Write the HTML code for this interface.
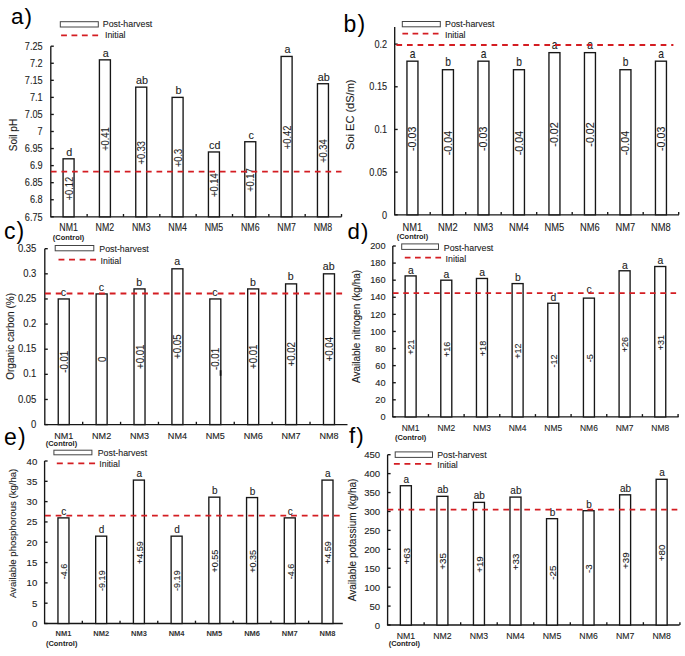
<!DOCTYPE html>
<html><head><meta charset="utf-8"><title>Soil properties</title>
<style>
html,body{margin:0;padding:0;background:#fff;width:685px;height:656px;overflow:hidden}
svg{display:block}
text{font-family:"Liberation Sans", sans-serif;fill:#1c1c1c;stroke:#1c1c1c;stroke-width:0.2px;stroke-opacity:0.5}
.pl,.ctl,.xle{stroke:none}
line{stroke:#161616;stroke-width:1.35}
.bar{fill:#fff;stroke:#161616;stroke-width:1.35}
.lgb{fill:#fff;stroke:#444;stroke-width:1}
.red{stroke:#d41d22;stroke-width:1.8;stroke-dasharray:5.9 4.6}
.xl,.xle,.lg,.ctl{fill:#222}
.xle{font-weight:bold;fill:#333}
.ctl{font-weight:bold}
.pl{fill:#000;letter-spacing:1.1px}
</style></head>
<body>
<svg width="685" height="656" viewBox="0 0 685 656">
<rect width="685" height="656" fill="#fff"/>
<line x1="50.8" y1="46.2" x2="50.8" y2="216.8" />
<line x1="50.15" y1="216.8" x2="341.5" y2="216.8" />
<line x1="50.8" y1="216.80" x2="53.8" y2="216.80" />
<text class="tk" transform="translate(42.60,220.50) scale(0.88,1)" style="font-size:10.4px" text-anchor="end">6.75</text>
<line x1="50.8" y1="199.74" x2="53.8" y2="199.74" />
<text class="tk" transform="translate(42.60,203.44) scale(0.88,1)" style="font-size:10.4px" text-anchor="end">6.8</text>
<line x1="50.8" y1="182.68" x2="53.8" y2="182.68" />
<text class="tk" transform="translate(42.60,186.38) scale(0.88,1)" style="font-size:10.4px" text-anchor="end">6.85</text>
<line x1="50.8" y1="165.62" x2="53.8" y2="165.62" />
<text class="tk" transform="translate(42.60,169.32) scale(0.88,1)" style="font-size:10.4px" text-anchor="end">6.9</text>
<line x1="50.8" y1="148.56" x2="53.8" y2="148.56" />
<text class="tk" transform="translate(42.60,152.26) scale(0.88,1)" style="font-size:10.4px" text-anchor="end">6.95</text>
<line x1="50.8" y1="131.50" x2="53.8" y2="131.50" />
<text class="tk" transform="translate(42.60,135.20) scale(0.88,1)" style="font-size:10.4px" text-anchor="end">7</text>
<line x1="50.8" y1="114.44" x2="53.8" y2="114.44" />
<text class="tk" transform="translate(42.60,118.14) scale(0.88,1)" style="font-size:10.4px" text-anchor="end">7.05</text>
<line x1="50.8" y1="97.38" x2="53.8" y2="97.38" />
<text class="tk" transform="translate(42.60,101.08) scale(0.88,1)" style="font-size:10.4px" text-anchor="end">7.1</text>
<line x1="50.8" y1="80.32" x2="53.8" y2="80.32" />
<text class="tk" transform="translate(42.60,84.02) scale(0.88,1)" style="font-size:10.4px" text-anchor="end">7.15</text>
<line x1="50.8" y1="63.26" x2="53.8" y2="63.26" />
<text class="tk" transform="translate(42.60,66.96) scale(0.88,1)" style="font-size:10.4px" text-anchor="end">7.2</text>
<line x1="50.8" y1="46.20" x2="53.8" y2="46.20" />
<text class="tk" transform="translate(42.60,49.90) scale(0.88,1)" style="font-size:10.4px" text-anchor="end">7.25</text>
<line x1="87.14" y1="216.8" x2="87.14" y2="214.0" />
<line x1="123.48" y1="216.8" x2="123.48" y2="214.0" />
<line x1="159.82" y1="216.8" x2="159.82" y2="214.0" />
<line x1="196.16" y1="216.8" x2="196.16" y2="214.0" />
<line x1="232.50" y1="216.8" x2="232.50" y2="214.0" />
<line x1="268.84" y1="216.8" x2="268.84" y2="214.0" />
<line x1="305.18" y1="216.8" x2="305.18" y2="214.0" />
<line x1="341.52" y1="216.8" x2="341.52" y2="214.0" />
<rect class="bar" x="63.07" y="158.80" width="11.0" height="58.00" />
<text class="lt" transform="translate(69.37,155.80) scale(1.08,1)" style="font-size:10.0px" text-anchor="middle">d</text>
<text class="vt" transform="translate(72.52,188.60) rotate(-90) scale(0.91,1)" style="font-size:10.2px" text-anchor="middle">+0.12</text>
<text class="xl" transform="translate(68.57,231.20) scale(0.865,1)" style="font-size:10.2px" text-anchor="middle">NM1</text>
<rect class="bar" x="99.41" y="59.85" width="11.0" height="156.95" />
<text class="lt" transform="translate(105.71,56.85) scale(1.08,1)" style="font-size:10.0px" text-anchor="middle">a</text>
<text class="vt" transform="translate(108.86,139.12) rotate(-90) scale(0.91,1)" style="font-size:10.2px" text-anchor="middle">+0.41</text>
<text class="xl" transform="translate(104.91,231.20) scale(0.865,1)" style="font-size:10.2px" text-anchor="middle">NM2</text>
<rect class="bar" x="135.75" y="87.14" width="11.0" height="129.66" />
<text class="lt" transform="translate(142.05,84.14) scale(1.08,1)" style="font-size:10.0px" text-anchor="middle">ab</text>
<text class="vt" transform="translate(145.20,152.77) rotate(-90) scale(0.91,1)" style="font-size:10.2px" text-anchor="middle">+0.33</text>
<text class="xl" transform="translate(141.25,231.20) scale(0.865,1)" style="font-size:10.2px" text-anchor="middle">NM3</text>
<rect class="bar" x="172.09" y="97.38" width="11.0" height="119.42" />
<text class="lt" transform="translate(178.39,94.38) scale(1.08,1)" style="font-size:10.0px" text-anchor="middle">b</text>
<text class="vt" transform="translate(181.54,157.89) rotate(-90) scale(0.91,1)" style="font-size:10.2px" text-anchor="middle">+0.3</text>
<text class="xl" transform="translate(177.59,231.20) scale(0.865,1)" style="font-size:10.2px" text-anchor="middle">NM4</text>
<rect class="bar" x="208.43" y="151.97" width="11.0" height="64.83" />
<text class="lt" transform="translate(214.73,148.97) scale(1.08,1)" style="font-size:10.0px" text-anchor="middle">cd</text>
<text class="vt" transform="translate(217.88,185.19) rotate(-90) scale(0.91,1)" style="font-size:10.2px" text-anchor="middle">+0.14</text>
<text class="xl" transform="translate(213.93,231.20) scale(0.865,1)" style="font-size:10.2px" text-anchor="middle">NM5</text>
<rect class="bar" x="244.77" y="141.74" width="11.0" height="75.06" />
<text class="lt" transform="translate(251.07,138.74) scale(1.08,1)" style="font-size:10.0px" text-anchor="middle">c</text>
<text class="vt" transform="translate(254.22,180.07) rotate(-90) scale(0.91,1)" style="font-size:10.2px" text-anchor="middle">+0.17</text>
<text class="xl" transform="translate(250.27,231.20) scale(0.865,1)" style="font-size:10.2px" text-anchor="middle">NM6</text>
<rect class="bar" x="281.11" y="56.44" width="11.0" height="160.36" />
<text class="lt" transform="translate(287.41,53.44) scale(1.08,1)" style="font-size:10.0px" text-anchor="middle">a</text>
<text class="vt" transform="translate(290.56,137.42) rotate(-90) scale(0.91,1)" style="font-size:10.2px" text-anchor="middle">+0.42</text>
<text class="xl" transform="translate(286.61,231.20) scale(0.865,1)" style="font-size:10.2px" text-anchor="middle">NM7</text>
<rect class="bar" x="317.45" y="83.73" width="11.0" height="133.07" />
<text class="lt" transform="translate(323.75,80.73) scale(1.08,1)" style="font-size:10.0px" text-anchor="middle">ab</text>
<text class="vt" transform="translate(326.90,151.07) rotate(-90) scale(0.91,1)" style="font-size:10.2px" text-anchor="middle">+0.34</text>
<text class="xl" transform="translate(322.95,231.20) scale(0.865,1)" style="font-size:10.2px" text-anchor="middle">NM8</text>
<text class="ctl" transform="translate(68.57,240.00) scale(0.98,1)" style="font-size:7.6px" text-anchor="middle">(Control)</text>
<line class="red" x1="50.9" y1="171.6" x2="341.5" y2="171.6" style="stroke-dasharray:5.70 4.86" />
<rect class="lgb" x="60.3" y="21.7" width="38" height="5.3" />
<text class="lg" transform="translate(102.80,27.20) scale(0.9,1)" style="font-size:9.8px">Post-harvest</text>
<line class="red" x1="61.1" y1="35.4" x2="98.8" y2="35.4" style="stroke-dasharray:5.82 4.58" />
<text class="lg" transform="translate(105.00,38.20) scale(0.9,1)" style="font-size:9.8px">Initial</text>
<text class="yl" transform="translate(16.80,135.00) rotate(-90)" style="font-size:10.0px" text-anchor="middle">Soil pH</text>
<text class="pl" transform="translate(11.00,23.60)" style="font-size:22.5px">a)</text>
<line x1="394.7" y1="27.0" x2="394.7" y2="214.8" />
<line x1="394.05" y1="214.8" x2="679.0" y2="214.8" />
<line x1="394.7" y1="214.80" x2="397.7" y2="214.80" />
<text class="tk" transform="translate(387.10,218.50) scale(0.88,1)" style="font-size:10.4px" text-anchor="end">0</text>
<line x1="394.7" y1="172.12" x2="397.7" y2="172.12" />
<text class="tk" transform="translate(387.10,175.82) scale(0.88,1)" style="font-size:10.4px" text-anchor="end">0.05</text>
<line x1="394.7" y1="129.45" x2="397.7" y2="129.45" />
<text class="tk" transform="translate(387.10,133.15) scale(0.88,1)" style="font-size:10.4px" text-anchor="end">0.1</text>
<line x1="394.7" y1="86.78" x2="397.7" y2="86.78" />
<text class="tk" transform="translate(387.10,90.48) scale(0.88,1)" style="font-size:10.4px" text-anchor="end">0.15</text>
<line x1="394.7" y1="44.10" x2="397.7" y2="44.10" />
<text class="tk" transform="translate(387.10,47.80) scale(0.88,1)" style="font-size:10.4px" text-anchor="end">0.2</text>
<line x1="430.20" y1="214.8" x2="430.20" y2="212.0" />
<line x1="465.70" y1="214.8" x2="465.70" y2="212.0" />
<line x1="501.20" y1="214.8" x2="501.20" y2="212.0" />
<line x1="536.70" y1="214.8" x2="536.70" y2="212.0" />
<line x1="572.20" y1="214.8" x2="572.20" y2="212.0" />
<line x1="607.70" y1="214.8" x2="607.70" y2="212.0" />
<line x1="643.20" y1="214.8" x2="643.20" y2="212.0" />
<line x1="678.70" y1="214.8" x2="678.70" y2="212.0" />
<rect class="bar" x="406.95" y="61.17" width="11.0" height="153.63" />
<text class="lt" transform="translate(412.65,57.67) scale(0.84,1)" style="font-size:12.2px" text-anchor="middle">a</text>
<text class="vt" transform="translate(416.40,138.79) rotate(-90) scale(1.045,1)" style="font-size:10.2px" text-anchor="middle">-0.03</text>
<text class="xl" transform="translate(412.45,231.10) scale(0.85,1)" style="font-size:11.0px" text-anchor="middle">NM1</text>
<rect class="bar" x="442.45" y="69.71" width="11.0" height="145.09" />
<text class="lt" transform="translate(448.15,66.21) scale(0.84,1)" style="font-size:12.2px" text-anchor="middle">b</text>
<text class="vt" transform="translate(451.90,143.05) rotate(-90) scale(1.045,1)" style="font-size:10.2px" text-anchor="middle">-0.04</text>
<text class="xl" transform="translate(447.95,231.10) scale(0.85,1)" style="font-size:11.0px" text-anchor="middle">NM2</text>
<rect class="bar" x="477.95" y="61.17" width="11.0" height="153.63" />
<text class="lt" transform="translate(483.65,57.67) scale(0.84,1)" style="font-size:12.2px" text-anchor="middle">a</text>
<text class="vt" transform="translate(487.40,138.79) rotate(-90) scale(1.045,1)" style="font-size:10.2px" text-anchor="middle">-0.03</text>
<text class="xl" transform="translate(483.45,231.10) scale(0.85,1)" style="font-size:11.0px" text-anchor="middle">NM3</text>
<rect class="bar" x="513.45" y="69.71" width="11.0" height="145.09" />
<text class="lt" transform="translate(519.15,66.21) scale(0.84,1)" style="font-size:12.2px" text-anchor="middle">b</text>
<text class="vt" transform="translate(522.90,143.05) rotate(-90) scale(1.045,1)" style="font-size:10.2px" text-anchor="middle">-0.04</text>
<text class="xl" transform="translate(518.95,231.10) scale(0.85,1)" style="font-size:11.0px" text-anchor="middle">NM4</text>
<rect class="bar" x="548.95" y="52.64" width="11.0" height="162.16" />
<text class="lt" transform="translate(554.65,49.14) scale(0.84,1)" style="font-size:12.2px" text-anchor="middle">a</text>
<text class="vt" transform="translate(558.40,134.52) rotate(-90) scale(1.045,1)" style="font-size:10.2px" text-anchor="middle">-0.02</text>
<text class="xl" transform="translate(554.45,231.10) scale(0.85,1)" style="font-size:11.0px" text-anchor="middle">NM5</text>
<rect class="bar" x="584.45" y="52.64" width="11.0" height="162.16" />
<text class="lt" transform="translate(590.15,49.14) scale(0.84,1)" style="font-size:12.2px" text-anchor="middle">a</text>
<text class="vt" transform="translate(593.90,134.52) rotate(-90) scale(1.045,1)" style="font-size:10.2px" text-anchor="middle">-0.02</text>
<text class="xl" transform="translate(589.95,231.10) scale(0.85,1)" style="font-size:11.0px" text-anchor="middle">NM6</text>
<rect class="bar" x="619.95" y="69.71" width="11.0" height="145.09" />
<text class="lt" transform="translate(625.65,66.21) scale(0.84,1)" style="font-size:12.2px" text-anchor="middle">b</text>
<text class="vt" transform="translate(629.40,143.05) rotate(-90) scale(1.045,1)" style="font-size:10.2px" text-anchor="middle">-0.04</text>
<text class="xl" transform="translate(625.45,231.10) scale(0.85,1)" style="font-size:11.0px" text-anchor="middle">NM7</text>
<rect class="bar" x="655.45" y="61.17" width="11.0" height="153.63" />
<text class="lt" transform="translate(661.15,57.67) scale(0.84,1)" style="font-size:12.2px" text-anchor="middle">a</text>
<text class="vt" transform="translate(664.90,138.79) rotate(-90) scale(1.045,1)" style="font-size:10.2px" text-anchor="middle">-0.03</text>
<text class="xl" transform="translate(660.95,231.10) scale(0.85,1)" style="font-size:11.0px" text-anchor="middle">NM8</text>
<text class="ctl" transform="translate(412.45,239.20) scale(0.98,1)" style="font-size:7.6px" text-anchor="middle">(Control)</text>
<line class="red" x1="396.4" y1="45.0" x2="673.4" y2="45.0" style="stroke-dasharray:5.71 4.86" />
<rect class="lgb" x="402.3" y="21.5" width="38" height="5.3" />
<text class="lg" transform="translate(445.00,27.30) scale(0.9,1)" style="font-size:9.8px">Post-harvest</text>
<line class="red" x1="402.4" y1="33.6" x2="438.9" y2="33.6" style="stroke-dasharray:5.68 4.47" />
<text class="lg" transform="translate(445.00,38.10) scale(0.9,1)" style="font-size:9.8px">Initial</text>
<text class="yl" transform="translate(354.20,114.70) rotate(-90)" style="font-size:10.0px" text-anchor="middle" textLength="70.5" lengthAdjust="spacingAndGlyphs">Soi EC (dS/m)</text>
<text class="pl" transform="translate(343.50,32.10)" style="font-size:23.0px">b)</text>
<line x1="44.8" y1="248.7" x2="44.8" y2="424.6" />
<line x1="44.15" y1="424.6" x2="347.5" y2="424.6" />
<line x1="44.8" y1="424.60" x2="47.8" y2="424.60" />
<text class="tk" transform="translate(36.40,427.70) scale(0.95,1)" style="font-size:10.0px" text-anchor="end">0</text>
<line x1="44.8" y1="399.47" x2="47.8" y2="399.47" />
<text class="tk" transform="translate(36.40,402.57) scale(0.95,1)" style="font-size:10.0px" text-anchor="end">0.05</text>
<line x1="44.8" y1="374.34" x2="47.8" y2="374.34" />
<text class="tk" transform="translate(36.40,377.44) scale(0.95,1)" style="font-size:10.0px" text-anchor="end">0.1</text>
<line x1="44.8" y1="349.21" x2="47.8" y2="349.21" />
<text class="tk" transform="translate(36.40,352.31) scale(0.95,1)" style="font-size:10.0px" text-anchor="end">0.15</text>
<line x1="44.8" y1="324.09" x2="47.8" y2="324.09" />
<text class="tk" transform="translate(36.40,327.19) scale(0.95,1)" style="font-size:10.0px" text-anchor="end">0.2</text>
<line x1="44.8" y1="298.96" x2="47.8" y2="298.96" />
<text class="tk" transform="translate(36.40,302.06) scale(0.95,1)" style="font-size:10.0px" text-anchor="end">0.25</text>
<line x1="44.8" y1="273.83" x2="47.8" y2="273.83" />
<text class="tk" transform="translate(36.40,276.93) scale(0.95,1)" style="font-size:10.0px" text-anchor="end">0.3</text>
<line x1="44.8" y1="248.70" x2="47.8" y2="248.70" />
<text class="tk" transform="translate(36.40,251.80) scale(0.95,1)" style="font-size:10.0px" text-anchor="end">0.35</text>
<line x1="82.69" y1="424.6" x2="82.69" y2="421.8" />
<line x1="120.58" y1="424.6" x2="120.58" y2="421.8" />
<line x1="158.47" y1="424.6" x2="158.47" y2="421.8" />
<line x1="196.36" y1="424.6" x2="196.36" y2="421.8" />
<line x1="234.25" y1="424.6" x2="234.25" y2="421.8" />
<line x1="272.14" y1="424.6" x2="272.14" y2="421.8" />
<line x1="310.03" y1="424.6" x2="310.03" y2="421.8" />
<rect class="bar" x="58.24" y="298.96" width="11.0" height="125.64" />
<text class="lt" transform="translate(63.45,295.56)" style="font-size:10.6px" text-anchor="middle">c</text>
<text class="vt" transform="translate(67.73,361.78) rotate(-90) scale(0.94,1)" style="font-size:10.3px" text-anchor="middle">-0.01</text>
<text class="xl" transform="translate(63.74,439.20) scale(1.03,1)" style="font-size:8.8px" text-anchor="middle">NM1</text>
<rect class="bar" x="96.13" y="293.93" width="11.0" height="130.67" />
<text class="lt" transform="translate(101.33,290.53)" style="font-size:10.6px" text-anchor="middle">c</text>
<text class="vt" transform="translate(105.62,359.27) rotate(-90) scale(0.94,1)" style="font-size:10.3px" text-anchor="middle">0</text>
<text class="xl" transform="translate(101.63,439.20) scale(1.03,1)" style="font-size:8.8px" text-anchor="middle">NM2</text>
<rect class="bar" x="134.02" y="288.91" width="11.0" height="135.69" />
<text class="lt" transform="translate(139.22,285.51)" style="font-size:10.6px" text-anchor="middle">b</text>
<text class="vt" transform="translate(143.51,356.75) rotate(-90) scale(0.94,1)" style="font-size:10.3px" text-anchor="middle">+0.01</text>
<text class="xl" transform="translate(139.52,439.20) scale(1.03,1)" style="font-size:8.8px" text-anchor="middle">NM3</text>
<rect class="bar" x="171.92" y="268.80" width="11.0" height="155.80" />
<text class="lt" transform="translate(177.12,265.40)" style="font-size:10.6px" text-anchor="middle">a</text>
<text class="vt" transform="translate(181.40,346.70) rotate(-90) scale(0.94,1)" style="font-size:10.3px" text-anchor="middle">+0.05</text>
<text class="xl" transform="translate(177.42,439.20) scale(1.03,1)" style="font-size:8.8px" text-anchor="middle">NM4</text>
<rect class="bar" x="209.81" y="298.96" width="11.0" height="125.64" />
<text class="lt" transform="translate(215.00,295.56)" style="font-size:10.6px" text-anchor="middle">c</text>
<text class="vt" transform="translate(219.29,358.98) rotate(-90) scale(0.94,1)" style="font-size:10.3px" text-anchor="middle">-0.01</text>
<text class="xl" transform="translate(215.31,439.20) scale(1.03,1)" style="font-size:8.8px" text-anchor="middle">NM5</text>
<rect class="bar" x="247.69" y="288.91" width="11.0" height="135.69" />
<text class="lt" transform="translate(252.89,285.51)" style="font-size:10.6px" text-anchor="middle">b</text>
<text class="vt" transform="translate(257.18,356.75) rotate(-90) scale(0.94,1)" style="font-size:10.3px" text-anchor="middle">+0.01</text>
<text class="xl" transform="translate(253.19,439.20) scale(1.03,1)" style="font-size:8.8px" text-anchor="middle">NM6</text>
<rect class="bar" x="285.58" y="283.88" width="11.0" height="140.72" />
<text class="lt" transform="translate(290.78,280.48)" style="font-size:10.6px" text-anchor="middle">b</text>
<text class="vt" transform="translate(295.07,354.24) rotate(-90) scale(0.94,1)" style="font-size:10.3px" text-anchor="middle">+0.02</text>
<text class="xl" transform="translate(291.08,439.20) scale(1.03,1)" style="font-size:8.8px" text-anchor="middle">NM7</text>
<rect class="bar" x="323.48" y="273.83" width="11.0" height="150.77" />
<text class="lt" transform="translate(328.68,270.43)" style="font-size:10.6px" text-anchor="middle">ab</text>
<text class="vt" transform="translate(332.96,349.21) rotate(-90) scale(0.94,1)" style="font-size:10.3px" text-anchor="middle">+0.04</text>
<text class="xl" transform="translate(328.98,439.20) scale(1.03,1)" style="font-size:8.8px" text-anchor="middle">NM8</text>
<text class="ctl" transform="translate(61.45,445.90) scale(0.98,1)" style="font-size:7.6px" text-anchor="middle">(Control)</text>
<line class="red" x1="45.0" y1="293.5" x2="342.1" y2="293.5" style="stroke-dasharray:5.83 4.96" />
<rect class="lgb" x="55.2" y="245.5" width="38.6" height="5.3" />
<text class="lg" transform="translate(99.30,252.00) scale(0.9,1)" style="font-size:9.8px">Post-harvest</text>
<line class="red" x1="58.5" y1="259.7" x2="96.7" y2="259.7" style="stroke-dasharray:5.91 4.64" />
<text class="lg" transform="translate(100.60,263.80) scale(0.9,1)" style="font-size:9.8px">Initial</text>
<text class="yl" transform="translate(14.30,336.40) rotate(-90)" style="font-size:10.0px" text-anchor="middle">Organic carbon (%)</text>
<text class="pl" transform="translate(4.00,239.10)" style="font-size:23.0px">c)</text>
<line x1="392.8" y1="246.0" x2="392.8" y2="416.9" />
<line x1="392.15000000000003" y1="416.9" x2="678.6" y2="416.9" />
<line x1="392.8" y1="416.90" x2="395.8" y2="416.90" />
<text class="tk" transform="translate(385.50,420.10)" style="font-size:9.2px" text-anchor="end">0</text>
<line x1="392.8" y1="399.81" x2="395.8" y2="399.81" />
<text class="tk" transform="translate(385.50,403.01)" style="font-size:9.2px" text-anchor="end">20</text>
<line x1="392.8" y1="382.72" x2="395.8" y2="382.72" />
<text class="tk" transform="translate(385.50,385.92)" style="font-size:9.2px" text-anchor="end">40</text>
<line x1="392.8" y1="365.63" x2="395.8" y2="365.63" />
<text class="tk" transform="translate(385.50,368.83)" style="font-size:9.2px" text-anchor="end">60</text>
<line x1="392.8" y1="348.54" x2="395.8" y2="348.54" />
<text class="tk" transform="translate(385.50,351.74)" style="font-size:9.2px" text-anchor="end">80</text>
<line x1="392.8" y1="331.45" x2="395.8" y2="331.45" />
<text class="tk" transform="translate(385.50,334.65)" style="font-size:9.2px" text-anchor="end">100</text>
<line x1="392.8" y1="314.36" x2="395.8" y2="314.36" />
<text class="tk" transform="translate(385.50,317.56)" style="font-size:9.2px" text-anchor="end">120</text>
<line x1="392.8" y1="297.27" x2="395.8" y2="297.27" />
<text class="tk" transform="translate(385.50,300.47)" style="font-size:9.2px" text-anchor="end">140</text>
<line x1="392.8" y1="280.18" x2="395.8" y2="280.18" />
<text class="tk" transform="translate(385.50,283.38)" style="font-size:9.2px" text-anchor="end">160</text>
<line x1="392.8" y1="263.09" x2="395.8" y2="263.09" />
<text class="tk" transform="translate(385.50,266.29)" style="font-size:9.2px" text-anchor="end">180</text>
<line x1="392.8" y1="246.00" x2="395.8" y2="246.00" />
<text class="tk" transform="translate(385.50,249.20)" style="font-size:9.2px" text-anchor="end">200</text>
<line x1="428.46" y1="416.9" x2="428.46" y2="414.09999999999997" />
<line x1="464.12" y1="416.9" x2="464.12" y2="414.09999999999997" />
<line x1="499.78" y1="416.9" x2="499.78" y2="414.09999999999997" />
<line x1="535.44" y1="416.9" x2="535.44" y2="414.09999999999997" />
<line x1="571.10" y1="416.9" x2="571.10" y2="414.09999999999997" />
<line x1="606.76" y1="416.9" x2="606.76" y2="414.09999999999997" />
<line x1="642.42" y1="416.9" x2="642.42" y2="414.09999999999997" />
<line x1="678.08" y1="416.9" x2="678.08" y2="414.09999999999997" />
<rect class="bar" x="405.13" y="275.91" width="11.0" height="140.99" />
<text class="lt" transform="translate(410.83,273.71)" style="font-size:10.4px" text-anchor="middle">a</text>
<text class="vt" transform="translate(414.44,347.20) rotate(-90) scale(0.92,1)" style="font-size:9.8px" text-anchor="middle">+21</text>
<text class="xl" transform="translate(410.63,431.00) scale(0.88,1)" style="font-size:9.6px" text-anchor="middle">NM1</text>
<rect class="bar" x="440.79" y="280.18" width="11.0" height="136.72" />
<text class="lt" transform="translate(446.49,277.98)" style="font-size:10.4px" text-anchor="middle">a</text>
<text class="vt" transform="translate(450.10,349.34) rotate(-90) scale(0.92,1)" style="font-size:9.8px" text-anchor="middle">+16</text>
<text class="xl" transform="translate(446.29,431.00) scale(0.88,1)" style="font-size:9.6px" text-anchor="middle">NM2</text>
<rect class="bar" x="476.45" y="278.47" width="11.0" height="138.43" />
<text class="lt" transform="translate(482.15,276.27)" style="font-size:10.4px" text-anchor="middle">a</text>
<text class="vt" transform="translate(485.76,348.49) rotate(-90) scale(0.92,1)" style="font-size:9.8px" text-anchor="middle">+18</text>
<text class="xl" transform="translate(481.95,431.00) scale(0.88,1)" style="font-size:9.6px" text-anchor="middle">NM3</text>
<rect class="bar" x="512.11" y="283.60" width="11.0" height="133.30" />
<text class="lt" transform="translate(517.81,281.40)" style="font-size:10.4px" text-anchor="middle">b</text>
<text class="vt" transform="translate(521.42,351.05) rotate(-90) scale(0.92,1)" style="font-size:9.8px" text-anchor="middle">+12</text>
<text class="xl" transform="translate(517.61,431.00) scale(0.88,1)" style="font-size:9.6px" text-anchor="middle">NM4</text>
<rect class="bar" x="547.77" y="303.25" width="11.0" height="113.65" />
<text class="lt" transform="translate(553.47,301.05)" style="font-size:10.4px" text-anchor="middle">d</text>
<text class="vt" transform="translate(557.08,360.88) rotate(-90) scale(0.92,1)" style="font-size:9.8px" text-anchor="middle">-12</text>
<text class="xl" transform="translate(553.27,431.00) scale(0.88,1)" style="font-size:9.6px" text-anchor="middle">NM5</text>
<rect class="bar" x="583.43" y="298.12" width="11.0" height="118.78" />
<text class="lt" transform="translate(589.13,293.32)" style="font-size:10.4px" text-anchor="middle">c</text>
<text class="vt" transform="translate(592.74,358.31) rotate(-90) scale(0.92,1)" style="font-size:9.8px" text-anchor="middle">-5</text>
<text class="xl" transform="translate(588.93,431.00) scale(0.88,1)" style="font-size:9.6px" text-anchor="middle">NM6</text>
<rect class="bar" x="619.09" y="270.78" width="11.0" height="146.12" />
<text class="lt" transform="translate(624.79,268.58)" style="font-size:10.4px" text-anchor="middle">a</text>
<text class="vt" transform="translate(628.40,344.64) rotate(-90) scale(0.92,1)" style="font-size:9.8px" text-anchor="middle">+26</text>
<text class="xl" transform="translate(624.59,431.00) scale(0.88,1)" style="font-size:9.6px" text-anchor="middle">NM7</text>
<rect class="bar" x="654.75" y="266.51" width="11.0" height="150.39" />
<text class="lt" transform="translate(660.45,264.31)" style="font-size:10.4px" text-anchor="middle">a</text>
<text class="vt" transform="translate(664.06,342.50) rotate(-90) scale(0.92,1)" style="font-size:9.8px" text-anchor="middle">+31</text>
<text class="xl" transform="translate(660.25,431.00) scale(0.88,1)" style="font-size:9.6px" text-anchor="middle">NM8</text>
<text class="ctl" transform="translate(410.63,439.70) scale(0.98,1)" style="font-size:7.6px" text-anchor="middle">(Control)</text>
<line class="red" x1="393.0" y1="293.1" x2="676.2" y2="293.1" style="stroke-dasharray:5.55 4.73" />
<rect class="lgb" x="401.7" y="243.9" width="36.8" height="5.5" />
<text class="lg" transform="translate(443.80,251.10) scale(0.9,1)" style="font-size:9.8px">Post-harvest</text>
<line class="red" x1="404.8" y1="257.6" x2="441.3" y2="257.6" style="stroke-dasharray:5.71 4.49" />
<text class="lg" transform="translate(445.60,262.30) scale(0.9,1)" style="font-size:9.8px">Initial</text>
<text class="yl" transform="translate(359.60,326.50) rotate(-90)" style="font-size:10.0px" text-anchor="middle">Available nitrogen (kg/ha)</text>
<text class="pl" transform="translate(347.60,238.80)" style="font-size:22.2px">d)</text>
<line x1="44.6" y1="461.0" x2="44.6" y2="623.5" />
<line x1="43.95" y1="623.5" x2="342.8" y2="623.5" />
<line x1="44.6" y1="623.50" x2="47.6" y2="623.50" />
<text class="tk" transform="translate(37.30,627.00) scale(1.04,1)" style="font-size:9.3px" text-anchor="end">0</text>
<line x1="44.6" y1="603.19" x2="47.6" y2="603.19" />
<text class="tk" transform="translate(37.30,606.69) scale(1.04,1)" style="font-size:9.3px" text-anchor="end">5</text>
<line x1="44.6" y1="582.88" x2="47.6" y2="582.88" />
<text class="tk" transform="translate(37.30,586.38) scale(1.04,1)" style="font-size:9.3px" text-anchor="end">10</text>
<line x1="44.6" y1="562.56" x2="47.6" y2="562.56" />
<text class="tk" transform="translate(37.30,566.06) scale(1.04,1)" style="font-size:9.3px" text-anchor="end">15</text>
<line x1="44.6" y1="542.25" x2="47.6" y2="542.25" />
<text class="tk" transform="translate(37.30,545.75) scale(1.04,1)" style="font-size:9.3px" text-anchor="end">20</text>
<line x1="44.6" y1="521.94" x2="47.6" y2="521.94" />
<text class="tk" transform="translate(37.30,525.44) scale(1.04,1)" style="font-size:9.3px" text-anchor="end">25</text>
<line x1="44.6" y1="501.62" x2="47.6" y2="501.62" />
<text class="tk" transform="translate(37.30,505.12) scale(1.04,1)" style="font-size:9.3px" text-anchor="end">30</text>
<line x1="44.6" y1="481.31" x2="47.6" y2="481.31" />
<text class="tk" transform="translate(37.30,484.81) scale(1.04,1)" style="font-size:9.3px" text-anchor="end">35</text>
<line x1="44.6" y1="461.00" x2="47.6" y2="461.00" />
<text class="tk" transform="translate(37.30,464.50) scale(1.04,1)" style="font-size:9.3px" text-anchor="end">40</text>
<line x1="82.32" y1="623.5" x2="82.32" y2="620.7" />
<line x1="120.04" y1="623.5" x2="120.04" y2="620.7" />
<line x1="157.76" y1="623.5" x2="157.76" y2="620.7" />
<line x1="195.48" y1="623.5" x2="195.48" y2="620.7" />
<line x1="233.20" y1="623.5" x2="233.20" y2="620.7" />
<line x1="270.92" y1="623.5" x2="270.92" y2="620.7" />
<line x1="308.64" y1="623.5" x2="308.64" y2="620.7" />
<rect class="bar" x="57.96" y="517.88" width="11.0" height="105.62" />
<text class="lt" transform="translate(63.86,514.88)" style="font-size:10.0px" text-anchor="middle">c</text>
<text class="vt" transform="translate(67.27,571.49) rotate(-90) scale(0.92,1)" style="font-size:9.8px" text-anchor="middle">-4.6</text>
<text class="xle" transform="translate(63.46,636.30)" style="font-size:7.5px" text-anchor="middle">NM1</text>
<rect class="bar" x="95.68" y="536.16" width="11.0" height="87.34" />
<text class="lt" transform="translate(101.58,533.16)" style="font-size:10.0px" text-anchor="middle">d</text>
<text class="vt" transform="translate(104.99,580.63) rotate(-90) scale(0.92,1)" style="font-size:9.8px" text-anchor="middle">-9.19</text>
<text class="xle" transform="translate(101.18,636.30)" style="font-size:7.5px" text-anchor="middle">NM2</text>
<rect class="bar" x="133.40" y="480.09" width="11.0" height="143.41" />
<text class="lt" transform="translate(139.30,477.09)" style="font-size:10.0px" text-anchor="middle">a</text>
<text class="vt" transform="translate(142.71,552.60) rotate(-90) scale(0.92,1)" style="font-size:9.8px" text-anchor="middle">+4.59</text>
<text class="xle" transform="translate(138.90,636.30)" style="font-size:7.5px" text-anchor="middle">NM3</text>
<rect class="bar" x="171.12" y="536.16" width="11.0" height="87.34" />
<text class="lt" transform="translate(177.02,533.16)" style="font-size:10.0px" text-anchor="middle">d</text>
<text class="vt" transform="translate(180.43,580.63) rotate(-90) scale(0.92,1)" style="font-size:9.8px" text-anchor="middle">-9.19</text>
<text class="xle" transform="translate(176.62,636.30)" style="font-size:7.5px" text-anchor="middle">NM4</text>
<rect class="bar" x="208.84" y="497.16" width="11.0" height="126.34" />
<text class="lt" transform="translate(214.74,494.16)" style="font-size:10.0px" text-anchor="middle">b</text>
<text class="vt" transform="translate(218.15,561.13) rotate(-90) scale(0.92,1)" style="font-size:9.8px" text-anchor="middle">+0.55</text>
<text class="xle" transform="translate(214.34,636.30)" style="font-size:7.5px" text-anchor="middle">NM5</text>
<rect class="bar" x="246.56" y="497.56" width="11.0" height="125.94" />
<text class="lt" transform="translate(252.46,494.56)" style="font-size:10.0px" text-anchor="middle">b</text>
<text class="vt" transform="translate(255.87,561.33) rotate(-90) scale(0.92,1)" style="font-size:9.8px" text-anchor="middle">+0.35</text>
<text class="xle" transform="translate(252.06,636.30)" style="font-size:7.5px" text-anchor="middle">NM6</text>
<rect class="bar" x="284.28" y="517.88" width="11.0" height="105.62" />
<text class="lt" transform="translate(290.18,514.88)" style="font-size:10.0px" text-anchor="middle">c</text>
<text class="vt" transform="translate(293.59,571.49) rotate(-90) scale(0.92,1)" style="font-size:9.8px" text-anchor="middle">-4.6</text>
<text class="xle" transform="translate(289.78,636.30)" style="font-size:7.5px" text-anchor="middle">NM7</text>
<rect class="bar" x="322.00" y="480.09" width="11.0" height="143.41" />
<text class="lt" transform="translate(327.90,477.09)" style="font-size:10.0px" text-anchor="middle">a</text>
<text class="vt" transform="translate(331.31,552.60) rotate(-90) scale(0.92,1)" style="font-size:9.8px" text-anchor="middle">+4.59</text>
<text class="xle" transform="translate(327.50,636.30)" style="font-size:7.5px" text-anchor="middle">NM8</text>
<text class="ctl" transform="translate(61.66,645.80) scale(0.98,1)" style="font-size:7.6px" text-anchor="middle">(Control)</text>
<line class="red" x1="45.0" y1="515.7" x2="339.7" y2="515.7" style="stroke-dasharray:5.78 4.92" />
<rect class="lgb" x="53.9" y="450.2" width="38" height="4.6" />
<text class="lg" transform="translate(97.70,456.00) scale(0.9,1)" style="font-size:9.8px">Post-harvest</text>
<line class="red" x1="56.8" y1="463.3" x2="95.5" y2="463.3" style="stroke-dasharray:6.02 4.73" />
<text class="lg" transform="translate(99.30,466.60) scale(0.9,1)" style="font-size:9.8px">Initial</text>
<text class="yl" transform="translate(15.50,533.40) rotate(-90)" style="font-size:9.6px" text-anchor="middle">Available phosphorous (kg/ha)</text>
<text class="pl" transform="translate(4.00,445.00)" style="font-size:23.0px">e)</text>
<line x1="387.6" y1="454.7" x2="387.6" y2="625.0" />
<line x1="386.95000000000005" y1="625.0" x2="679.6" y2="625.0" />
<line x1="387.6" y1="625.00" x2="390.6" y2="625.00" />
<text class="tk" transform="translate(380.20,628.60)" style="font-size:9.6px" text-anchor="end">0</text>
<line x1="387.6" y1="606.08" x2="390.6" y2="606.08" />
<text class="tk" transform="translate(380.20,609.68)" style="font-size:9.6px" text-anchor="end">50</text>
<line x1="387.6" y1="587.16" x2="390.6" y2="587.16" />
<text class="tk" transform="translate(380.20,590.76)" style="font-size:9.6px" text-anchor="end">100</text>
<line x1="387.6" y1="568.23" x2="390.6" y2="568.23" />
<text class="tk" transform="translate(380.20,571.83)" style="font-size:9.6px" text-anchor="end">150</text>
<line x1="387.6" y1="549.31" x2="390.6" y2="549.31" />
<text class="tk" transform="translate(380.20,552.91)" style="font-size:9.6px" text-anchor="end">200</text>
<line x1="387.6" y1="530.39" x2="390.6" y2="530.39" />
<text class="tk" transform="translate(380.20,533.99)" style="font-size:9.6px" text-anchor="end">250</text>
<line x1="387.6" y1="511.47" x2="390.6" y2="511.47" />
<text class="tk" transform="translate(380.20,515.07)" style="font-size:9.6px" text-anchor="end">300</text>
<line x1="387.6" y1="492.54" x2="390.6" y2="492.54" />
<text class="tk" transform="translate(380.20,496.14)" style="font-size:9.6px" text-anchor="end">350</text>
<line x1="387.6" y1="473.62" x2="390.6" y2="473.62" />
<text class="tk" transform="translate(380.20,477.22)" style="font-size:9.6px" text-anchor="end">400</text>
<line x1="387.6" y1="454.70" x2="390.6" y2="454.70" />
<text class="tk" transform="translate(380.20,458.30)" style="font-size:9.6px" text-anchor="end">450</text>
<line x1="424.14" y1="625.0" x2="424.14" y2="622.2" />
<line x1="460.68" y1="625.0" x2="460.68" y2="622.2" />
<line x1="497.22" y1="625.0" x2="497.22" y2="622.2" />
<line x1="533.76" y1="625.0" x2="533.76" y2="622.2" />
<line x1="570.30" y1="625.0" x2="570.30" y2="622.2" />
<line x1="606.84" y1="625.0" x2="606.84" y2="622.2" />
<line x1="643.38" y1="625.0" x2="643.38" y2="622.2" />
<line x1="679.92" y1="625.0" x2="679.92" y2="622.2" />
<rect class="bar" x="400.37" y="485.73" width="11.0" height="139.27" />
<text class="lt" transform="translate(406.27,482.73)" style="font-size:10.0px" text-anchor="middle">a</text>
<text class="vt" transform="translate(409.61,556.17) rotate(-90) scale(1.02,1)" style="font-size:9.6px" text-anchor="middle">+63</text>
<text class="xl" transform="translate(405.87,639.30) scale(0.93,1)" style="font-size:9.4px" text-anchor="middle">NM1</text>
<rect class="bar" x="436.91" y="496.33" width="11.0" height="128.67" />
<text class="lt" transform="translate(442.81,493.33)" style="font-size:10.0px" text-anchor="middle">ab</text>
<text class="vt" transform="translate(446.15,561.46) rotate(-90) scale(1.02,1)" style="font-size:9.6px" text-anchor="middle">+35</text>
<text class="xl" transform="translate(442.41,639.30) scale(0.93,1)" style="font-size:9.4px" text-anchor="middle">NM2</text>
<rect class="bar" x="473.45" y="502.38" width="11.0" height="122.62" />
<text class="lt" transform="translate(479.35,499.38)" style="font-size:10.0px" text-anchor="middle">ab</text>
<text class="vt" transform="translate(482.69,564.49) rotate(-90) scale(1.02,1)" style="font-size:9.6px" text-anchor="middle">+19</text>
<text class="xl" transform="translate(478.95,639.30) scale(0.93,1)" style="font-size:9.4px" text-anchor="middle">NM3</text>
<rect class="bar" x="509.99" y="497.09" width="11.0" height="127.91" />
<text class="lt" transform="translate(515.89,494.09)" style="font-size:10.0px" text-anchor="middle">ab</text>
<text class="vt" transform="translate(519.23,561.84) rotate(-90) scale(1.02,1)" style="font-size:9.6px" text-anchor="middle">+33</text>
<text class="xl" transform="translate(515.49,639.30) scale(0.93,1)" style="font-size:9.4px" text-anchor="middle">NM4</text>
<rect class="bar" x="546.53" y="518.66" width="11.0" height="106.34" />
<text class="lt" transform="translate(552.43,515.66)" style="font-size:10.0px" text-anchor="middle">b</text>
<text class="vt" transform="translate(555.77,572.63) rotate(-90) scale(1.02,1)" style="font-size:9.6px" text-anchor="middle">-25</text>
<text class="xl" transform="translate(552.03,639.30) scale(0.93,1)" style="font-size:9.4px" text-anchor="middle">NM5</text>
<rect class="bar" x="583.07" y="510.71" width="11.0" height="114.29" />
<text class="lt" transform="translate(588.97,507.71)" style="font-size:10.0px" text-anchor="middle">b</text>
<text class="vt" transform="translate(592.31,568.65) rotate(-90) scale(1.02,1)" style="font-size:9.6px" text-anchor="middle">-3</text>
<text class="xl" transform="translate(588.57,639.30) scale(0.93,1)" style="font-size:9.4px" text-anchor="middle">NM6</text>
<rect class="bar" x="619.61" y="494.82" width="11.0" height="130.18" />
<text class="lt" transform="translate(625.51,491.82)" style="font-size:10.0px" text-anchor="middle">ab</text>
<text class="vt" transform="translate(628.85,560.71) rotate(-90) scale(1.02,1)" style="font-size:9.6px" text-anchor="middle">+39</text>
<text class="xl" transform="translate(625.11,639.30) scale(0.93,1)" style="font-size:9.4px" text-anchor="middle">NM7</text>
<rect class="bar" x="656.15" y="479.30" width="11.0" height="145.70" />
<text class="lt" transform="translate(662.05,476.30)" style="font-size:10.0px" text-anchor="middle">a</text>
<text class="vt" transform="translate(665.39,552.95) rotate(-90) scale(1.02,1)" style="font-size:9.6px" text-anchor="middle">+80</text>
<text class="xl" transform="translate(661.65,639.30) scale(0.93,1)" style="font-size:9.4px" text-anchor="middle">NM8</text>
<text class="ctl" transform="translate(404.37,645.60) scale(0.98,1)" style="font-size:7.6px" text-anchor="middle">(Control)</text>
<line class="red" x1="387.6" y1="509.6" x2="677.5" y2="509.6" style="stroke-dasharray:5.68 4.84" />
<rect class="lgb" x="395.2" y="451.9" width="37.3" height="5.5" />
<text class="lg" transform="translate(437.20,458.00) scale(0.9,1)" style="font-size:9.8px">Post-harvest</text>
<line class="red" x1="393.9" y1="463.9" x2="431.6" y2="463.9" style="stroke-dasharray:5.91 4.64" />
<text class="lg" transform="translate(437.20,467.80) scale(0.9,1)" style="font-size:9.8px">Initial</text>
<text class="yl" transform="translate(356.00,539.90) rotate(-90)" style="font-size:10.0px" text-anchor="middle">Available potassium (kg/ha)</text>
<text class="pl" transform="translate(349.00,443.20)" style="font-size:22.4px">f)</text>
<rect x="219.7" y="370.2" width="1.7" height="5.6" fill="#111"/>
</svg>
</body></html>
